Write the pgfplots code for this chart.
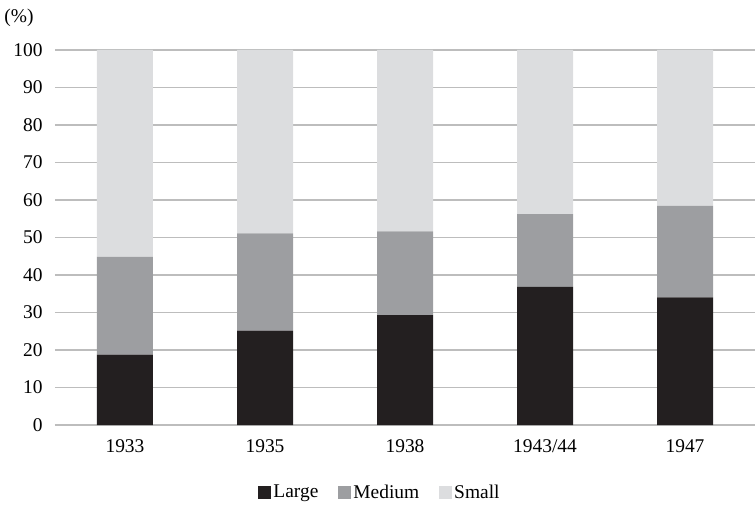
\documentclass[border=0pt]{standalone}
\usepackage{fontspec}
\setmainfont{Liberation Serif}
\usepackage{pgfplots}
\pgfplotsset{compat=1.18}
\definecolor{cLarge}{HTML}{231F20}
\definecolor{cMedium}{HTML}{9D9EA1}
\definecolor{cSmall}{HTML}{DCDDDF}
\definecolor{cGrid}{HTML}{BDBDBD}
\newcommand{\lbl}{\fontsize{19.5}{22}\selectfont}
\begin{document}
\begin{tikzpicture}
\begin{axis}[
    scale only axis,
    width=700bp, height=375bp,
    ybar stacked,
    bar width=0.4,
    xmin=-0.5, xmax=4.5,
    ymin=0, ymax=100,
    xtick=data,
    xticklabels={1933,1935,1938,1943/44,1947},
    ytick={0,10,...,100},
    ymajorgrids,
    grid style={cGrid, line width=1.2bp},
    axis lines*=left,
    y axis line style={draw=none},
    x axis line style={cGrid, line width=1.2bp},
    major tick length=0pt,
    tick label style={font=\lbl},
    /pgf/number format/assume math mode=true,
    yticklabel style={xshift=-9bp},
    xticklabel style={yshift=-11bp},
    clip=false,
    legend style={draw=none, font=\lbl, at={(0.4643,-0.179)}, anchor=center,
        legend columns=-1, /tikz/every even column/.append style={column sep=18bp}},
    legend image code/.code={\fill[#1] (0bp,-6.5bp) rectangle (13bp,6.5bp);},
]
\addplot[fill=cLarge, draw=none] coordinates {(0,18.8) (1,25.2) (2,29.3) (3,36.8) (4,34.0)};
\addplot[fill=cMedium, draw=none] coordinates {(0,26.0) (1,25.9) (2,22.3) (3,19.4) (4,24.4)};
\addplot[fill=cSmall, draw=none] coordinates {(0,55.2) (1,48.9) (2,48.4) (3,43.8) (4,41.6)};
\legend{Large,Medium,Small}
\node[font=\lbl, xshift=-36bp, yshift=32bp] at (rel axis cs:0,1) {(\%)};
\end{axis}
\pgfresetboundingbox
\path[use as bounding box] (-55bp,-81bp) rectangle (700bp,425bp);
\end{tikzpicture}
\end{document}
